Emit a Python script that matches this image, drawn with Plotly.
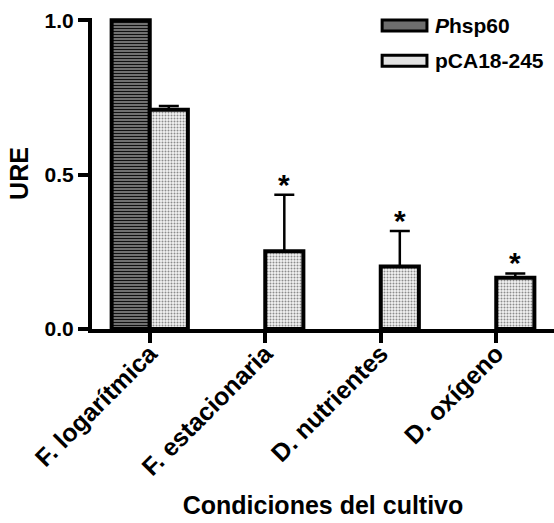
import plotly.graph_objects as go

# Data
categories = ["F. logarítmica", "F. estacionaria", "D. nutrientes", "D. oxígeno"]
phsp60_values = [1.0, None, None, None]
pca_values = [0.710, 0.252, 0.202, 0.166]
pca_errors = [0.012, 0.183, 0.115, 0.014]
significant = [False, True, True, True]
y_ticks = [0.0, 0.5, 1.0]
y_tick_labels = ["0.0", "0.5", "1.0"]

FONT = "Liberation Sans, Arial, sans-serif"
x_pos = list(range(len(categories)))

fig = go.Figure()

fig.add_trace(go.Bar(
    x=x_pos, y=phsp60_values, name="<i>P</i>hsp60",
    marker=dict(
        color="#6e6e6e",
        pattern=dict(shape="-", fgcolor="#111111", bgcolor="#909090", size=3, solidity=0.5),
    ),
    marker_line_color="#000000", marker_line_width=4,
    cliponaxis=False, showlegend=False,
))

fig.add_trace(go.Bar(
    x=x_pos, y=pca_values, name="pCA18-245",
    marker=dict(
        color="#dcdcdc",
        pattern=dict(shape=".", fgcolor="#8c8c8c", bgcolor="#f4f4f4", size=3, solidity=0.35),
    ),
    marker_line_color="#000000", marker_line_width=4,
    error_y=dict(type="data", symmetric=False, array=pca_errors,
                 arrayminus=[0] * len(pca_errors),
                 color="black", thickness=2.5, width=10),
    cliponaxis=False, showlegend=False,
))

# Significance marks above the error bars
bar_offset = 0.165
for i, (v, e, s) in enumerate(zip(pca_values, pca_errors, significant)):
    if s:
        fig.add_annotation(
            x=i + bar_offset, y=v + e, text="*", showarrow=False,
            xref="x", yref="y", yanchor="bottom", yshift=-8,
            font=dict(family=FONT, size=30, color="black", weight="bold"),
        )

# Legend drawn as swatches and labels
legend_items = [("<i>P</i>hsp60", "#6e6e6e"), ("pCA18-245", "#e2e2e2")]
for k, (label, fill) in enumerate(legend_items):
    y_top = 0.9935 - k * 0.1135
    y_bot = y_top - 0.0355
    fig.add_shape(type="rect", xref="paper", yref="paper",
                  x0=0.628, x1=0.725, y0=y_bot, y1=y_top,
                  fillcolor=fill, line=dict(color="black", width=3))
    fig.add_annotation(x=0.738, y=(y_top + y_bot) / 2, xref="paper", yref="paper",
                       text=label, showarrow=False, xanchor="left", yanchor="middle",
                       font=dict(family=FONT, size=21, color="black", weight="bold"))

fig.update_layout(
    template="none",
    width=554, height=523,
    margin=dict(l=92, r=0, t=18, b=194),
    paper_bgcolor="white", plot_bgcolor="white",
    barmode="group", bargap=0.34, bargroupgap=0,
    font=dict(family=FONT, size=20, color="black", weight="bold"),
    showlegend=False,
)

fig.update_xaxes(
    range=[-0.5, 3.5], tickvals=x_pos, ticktext=categories, tickangle=-45,
    showline=True, linecolor="black", linewidth=4,
    ticks="outside", ticklen=10, tickwidth=4, tickcolor="black",
    showgrid=False, zeroline=False, ticklabelstandoff=-14,
    tickfont=dict(family=FONT, size=25, color="black", weight="bold"),
    title=dict(text="Condiciones del cultivo", standoff=18,
               font=dict(family=FONT, size=25, color="black", weight="bold")),
)

fig.update_yaxes(
    range=[0, 1.007], tickvals=y_ticks, ticktext=y_tick_labels,
    showline=True, linecolor="black", linewidth=4,
    ticks="outside", ticklen=10, tickwidth=4, tickcolor="black",
    showgrid=False, zeroline=False,
    tickfont=dict(family=FONT, size=21, color="black", weight="bold"),
    title=dict(text="URE", standoff=10,
               font=dict(family=FONT, size=25, color="black", weight="bold")),
)

fig.write_html("out.html")
